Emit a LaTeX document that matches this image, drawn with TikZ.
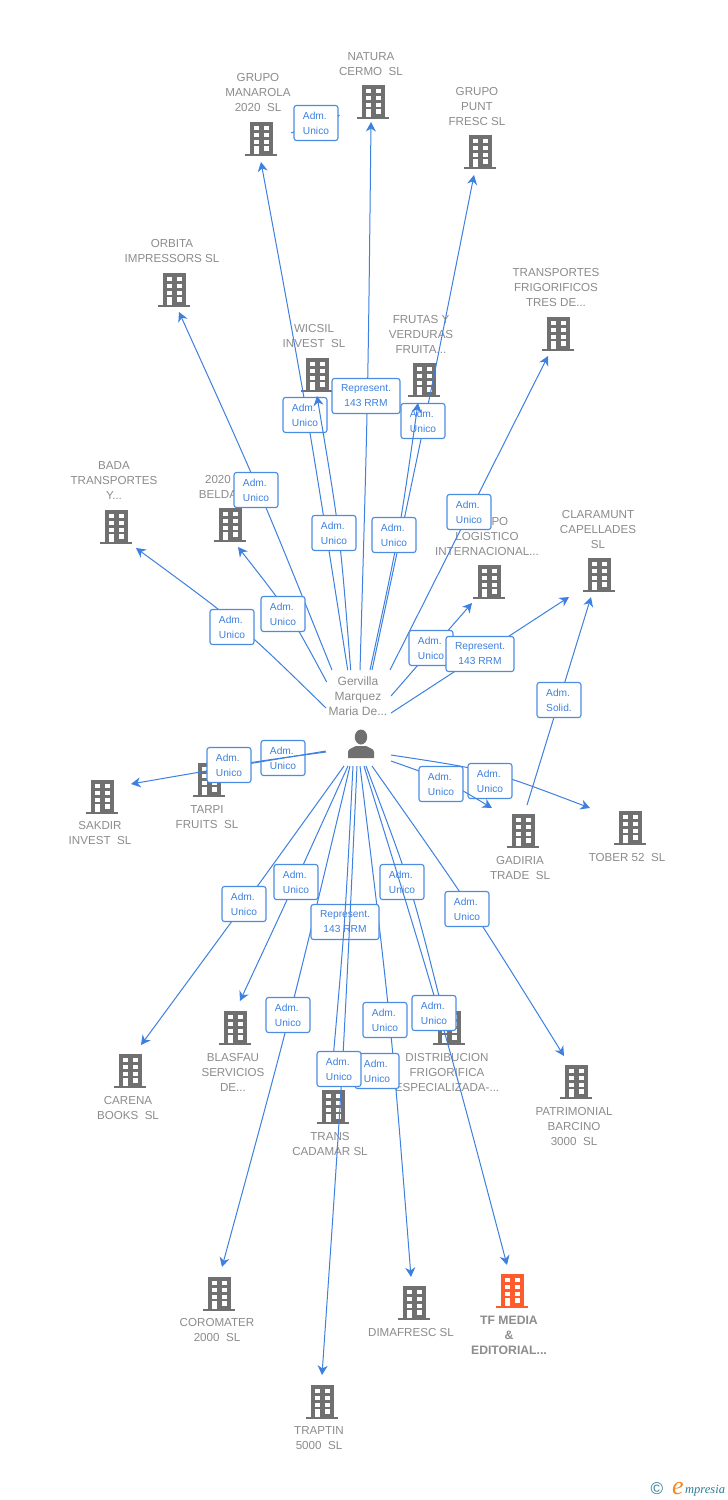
\documentclass[tikz,border=0pt]{standalone}
\usepackage{fontspec}
\setmainfont{Liberation Sans}
\newfontfamily\logofont{Liberation Serif}
\usetikzlibrary{arrows.meta}
\definecolor{lk}{HTML}{3D80E0}
\definecolor{bx}{HTML}{4A8CE2}
\definecolor{tg}{HTML}{8C8C8C}
\definecolor{ic}{HTML}{707070}
\definecolor{ot}{HTML}{FF5C2E}
\definecolor{teal1}{HTML}{2F7C96}
\definecolor{org}{HTML}{F5891F}
\tikzset{
  link/.style={draw=lk,line width=1pt,-{Stealth[length=9.5pt,width=10pt,inset=3pt]}},
  lbl/.style={anchor=north,yshift=4pt,inner sep=0pt,align=center,text=tg,font=\fontsize{11.6}{15}\selectfont},
  lblb/.style={lbl,font=\fontsize{12.2}{15}\selectfont\bfseries},
  admbox/.style={draw=bx,fill=white,line width=1.1pt,rounded corners=2.5pt,minimum width=44pt,minimum height=35pt,inner sep=0pt,text=lk,align=left,font=\fontsize{10.2}{15}\selectfont},
  repbox/.style={admbox,minimum width=68pt,align=center},
  bldnode/.style={inner sep=0pt,minimum width=31pt,minimum height=35pt}
}
\newcommand{\bldg}[4]{%
  \node[bldnode] (#1) at (#2,#3) {};
  \begin{scope}[shift={(#2,#3)}]
    \fill[#4] (-11.5,-17) rectangle (11.5,15);
    \fill[#4] (-16,14.5) rectangle (16,17);
    \foreach \yy in {-13,-6,1} {
      \fill[white] (-7,\yy) rectangle (-2,\yy+4);
      \fill[white] (3,\yy) rectangle (8,\yy+4);
    }
    \fill[white] (-7,7) rectangle (-2,15);
    \fill[white] (3,7) rectangle (8,11.5);
  \end{scope}}
\newcommand{\lnk}[4]{%
  \coordinate (s#1) at (#2);
  \coordinate (t#1) at (#4);
  \draw[link] (s#1) .. controls (#3) .. (t#1);}
\begin{document}
\begin{tikzpicture}[x=1pt,y=-1pt]
\useasboundingbox (0,0) rectangle (728,1500);
\fill[white] (0,0) rectangle (728,1500);
% buildings
\bldg{natura}{373}{102}{ic}
\bldg{manarola}{261}{139}{ic}
\bldg{punt}{480}{152}{ic}
\bldg{orbita}{174}{290}{ic}
\bldg{transp}{558}{334}{ic}
\bldg{wicsil}{317}{375}{ic}
\bldg{frutas}{424}{380}{ic}
\bldg{bada}{116}{527}{ic}
\bldg{belda}{230}{525}{ic}
\bldg{logis}{489}{582}{ic}
\bldg{clara}{599}{575}{ic}
\bldg{tarpi}{209}{780}{ic}
\bldg{sakdir}{102}{797}{ic}
\bldg{gadiria}{523}{831}{ic}
\bldg{tober}{630}{828}{ic}
\bldg{blasfau}{235}{1028}{ic}
\bldg{distrib}{449}{1028}{ic}
\bldg{carena}{130}{1071}{ic}
\bldg{trans}{333}{1107}{ic}
\bldg{patri}{576}{1082}{ic}
\bldg{coroma}{219}{1294}{ic}
\bldg{dimaf}{414}{1303}{ic}
\bldg{tfmedia}{512}{1291}{ot}
\bldg{traptin}{322}{1402}{ic}
% building labels
\node[lbl] (lnatura) at (371,56) {NATURA\\CERMO\ \ SL};
\node[lbl] (lmanarola) at (258,77) {GRUPO\\MANAROLA\\2020\ \ SL};
\node[lbl] (lpunt) at (477,91) {GRUPO\\PUNT\\FRESC SL};
\node[lbl] (lorbita) at (172,243) {ORBITA\\IMPRESSORS SL};
\node[lbl] (ltransp) at (556,272) {TRANSPORTES\\FRIGORIFICOS\\TRES DE...};
\node[lbl] (lwicsil) at (314,328) {WICSIL\\INVEST\ \ SL};
\node[lbl] (lfrutas) at (421,319) {FRUTAS Y\\VERDURAS\\FRUITA...};
\node[lbl] (lbada) at (114,465) {BADA\\TRANSPORTES\\Y...};
\node[lbl] (lbelda) at (218,479) {2020\\BELDA};
\node[lbl] (llogis) at (487,521) {GRUPO\\LOGISTICO\\INTERNACIONAL...};
\node[lbl] (lclara) at (598,514) {CLARAMUNT\\CAPELLADES\\SL};
\node[lbl] (ltarpi) at (207,809) {TARPI\\FRUITS\ \ SL};
\node[lbl] (lsakdir) at (100,825) {SAKDIR\\INVEST\ \ SL};
\node[lbl] (lgadiria) at (520,860) {GADIRIA\\TRADE\ \ SL};
\node[lbl] (ltober) at (627,857) {TOBER 52\ \ SL};
\node[lbl] (lblasfau) at (233,1057) {BLASFAU\\SERVICIOS\\DE...};
\node[lbl] (ldistrib) at (447,1057) {DISTRIBUCION\\FRIGORIFICA\\ESPECIALIZADA-...};
\node[lbl] (lcarena) at (128,1100) {CARENA\\BOOKS\ \ SL};
\node[lbl] (ltrans) at (330,1136) {TRANS\\CADAMAR SL};
\node[lbl] (lpatri) at (574,1111) {PATRIMONIAL\\BARCINO\\3000\ \ SL};
\node[lbl] (lcoroma) at (217,1322) {COROMATER\\2000\ \ SL};
\node[lbl] (ldimaf) at (411,1332) {DIMAFRESC SL};
\node[lblb] (ltf) at (509,1320) {TF MEDIA\\\&\\EDITORIAL...};
\node[lbl] (ltraptin) at (319,1430) {TRAPTIN\\5000\ \ SL};
% person
\node[lbl,font=\fontsize{12}{15}\selectfont] (gervilla) at (358,681) {Gervilla\\Marquez\\Maria De...};
\node[inner sep=0pt,minimum width=28pt,minimum height=30pt] (person) at (361,744) {};
\fill[ic] (361,737) ellipse (6.2 and 7.5);
\fill[ic] (348,758) -- (348,752) .. controls (348,749) and (352,748) .. (356,746) -- (366,746) .. controls (370,748) and (374,749) .. (374,752) -- (374,758) -- cycle;
% connectors with their label boxes, in stacking order
\lnk{mn}{291,133}{315,124}{340,115}
\node[admbox] (bmn) at (316,123) {Adm.\\Unico};
\lnk{man}{347.7,670}{308,416}{261,162}
\node[admbox] (bman) at (305,415) {Adm.\\Unico};
\lnk{wic}{350.7,670}{340,533}{317,396}
\node[admbox] (bwic) at (334,533) {Adm.\\Unico};
\lnk{nat}{360,670}{368,396}{371,122}
\node[repbox] (bnat) at (366,396) {Represent.\\143 RRM};
\lnk{pun}{372,670}{425,422}{474,175}
\node[admbox] (bpun) at (423,421) {Adm.\\Unico};
\lnk{fru}{370,670}{399,536}{418,403}
\node[admbox] (bfru) at (394,535) {Adm.\\Unico};
\lnk{tra}{390,670}{469,513}{548,356}
\node[admbox] (btra) at (469,512) {Adm.\\Unico};
\lnk{orb}{332,670}{260,491}{179,312}
\node[admbox] (borb) at (256,490) {Adm.\\Unico};
\lnk{bel}{326.7,682}{289,612}{238,547}
\node[admbox] (bbel) at (283,614) {Adm.\\Unico};
\lnk{bad}{326,708}{241,625}{136,548}
\node[admbox] (bbad) at (232,627) {Adm.\\Unico};
\lnk{log}{391,696}{431,650}{472,603}
\node[admbox] (blog) at (431,648) {Adm.\\Unico};
\lnk{cla}{391,713}{480,655}{569,597}
\node[repbox] (bcla) at (480,654) {Represent.\\143 RRM};
\lnk{gcl}{527,805}{559,701}{591,597}
\node[admbox] (bgcl) at (559,700) {Adm.\\Solid.};
\lnk{tob}{391,755}{490,770}{590,808}
\node[admbox] (btob) at (490,781) {Adm.\\Unico};
\lnk{gad}{391,761}{445,780}{492,808}
\node[admbox] (bgad) at (441,784) {Adm.\\Unico};
\node[admbox] (btar) at (283,758) {Adm.\\Unico};
\lnk{tar}{326,752}{274,759}{222,767}
\lnk{sak}{326,751}{229,767}{131,784}
\node[admbox] (bsak) at (229,765) {Adm.\\Unico};
\lnk{car}{344,766}{244,905}{141,1045}
\node[admbox] (bcar) at (244,904) {Adm.\\Unico};
\lnk{bla}{348,766}{295,883}{240,1001}
\node[admbox] (bbla) at (296,882) {Adm.\\Unico};
\lnk{cor}{350,766}{292,1010}{222,1267}
\node[admbox] (bcor) at (288,1015) {Adm.\\Unico};
\lnk{dis}{366,766}{411,885}{443,1012}
\node[admbox] (bdis) at (402,882) {Adm.\\Unico};
\lnk{tfm}{364,766}{441,1015}{507,1265}
\node[admbox] (btfm) at (434,1013) {Adm.\\Unico};
\lnk{pat}{372,766}{472,908}{564,1056}
\node[admbox] (bpat) at (467,909) {Adm.\\Unico};
\lnk{dim}{360,766}{391,1021}{411,1277}
\node[admbox] (bdim) at (385,1020) {Adm.\\Unico};
\node[admbox] (bdi2) at (377,1071) {Adm.\\Unico};
\node[repbox] (brep) at (345,922) {Represent.\\143 RRM};
\lnk{trn}{353,766}{345,924}{331,1082}
\lnk{trp}{357,766}{343,1070}{322,1375}
\node[admbox] (btrn) at (339,1069) {Adm.\\Unico};
% logo
\node[inner sep=0pt,text=teal1,font=\fontsize{17}{17}\selectfont] (copy) at (657,1489) {©};
\node[inner sep=0pt,anchor=base west,text=org,font=\logofont\itshape\fontsize{26}{26}\selectfont] (logoe) at (672,1494) {e};
\node[inner sep=0pt,anchor=base west,text=teal1,font=\logofont\itshape\fontsize{12.5}{13}\selectfont] (logot) at (685,1493) {mpresia};
\end{tikzpicture}
\end{document}
